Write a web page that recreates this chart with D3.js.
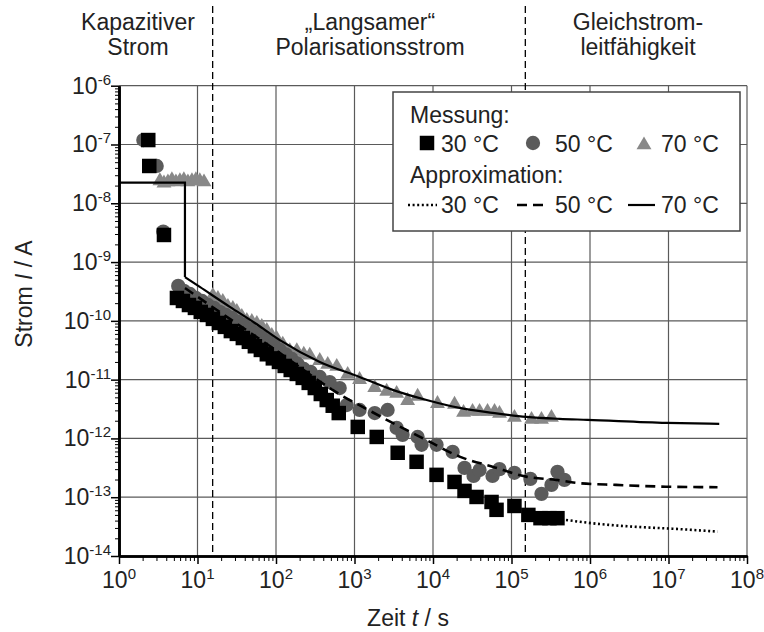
<html>
  <head>
    <title>Strom über Zeit</title>
    <script src="https://d3js.org/d3.v7.min.js"></script>
    <style>
      body {
        margin: 0;
        background: #fff;
      }
      text {
        font-family: "Liberation Sans", Arial, sans-serif;
        fill: #222;
      }
      .grid line {
        stroke: #5a5a5a;
        stroke-width: 1.2px;
      }
      .axis path,
      .axis line {
        stroke: #000;
      }
      .axis path {
        stroke-width: 2.6px;
      }
    </style>
  </head>
  <body>
    <svg id="chart" width="764" height="632"></svg>

    <script>
      // Messpunkte [t in s, I in A]
      const mess30 = [
        [2.36, 1.19e-7], [2.43, 4.31e-8], [3.74, 2.89e-9],
        [5.47, 2.45e-10], [6.52, 2.18e-10], [7.78, 1.86e-10], [9.27, 1.66e-10],
        [11.0, 1.42e-10], [13.2, 1.26e-10], [15.7, 1.08e-10], [18.7, 9.2e-11],
        [22.3, 7.9e-11], [26.6, 6.7e-11], [31.7, 6.0e-11], [37.8, 5.1e-11],
        [45.1, 4.4e-11], [53.8, 3.7e-11], [64.1, 3.2e-11], [76.4, 2.7e-11],
        [91.1, 2.3e-11], [109, 2.0e-11], [129, 1.71e-11], [154, 1.46e-11],
        [184, 1.25e-11], [219, 1.07e-11], [261, 8.8e-12], [312, 7.2e-12],
        [372, 5.7e-12], [443, 4.5e-12], [528, 3.6e-12], [630, 2.7e-12],
        [1100, 1.57e-12], [1920, 1.06e-12], [3550, 5.7e-13], [6180, 4.0e-13],
        [11100, 2.4e-13], [18800, 1.82e-13], [25200, 1.28e-13], [35900, 1.01e-13],
        [55700, 8.3e-14], [64500, 6.1e-14], [109000, 7.1e-14], [164000, 5.0e-14],
        [234000, 4.4e-14], [304000, 4.4e-14], [385000, 4.4e-14]
      ];
      const mess50 = [
        [2.04, 1.19e-7], [3.02, 4.31e-8], [3.66, 3.29e-9], [5.68, 3.93e-10],
        [6.71, 3.23e-10], [8.0, 2.87e-10], [9.54, 2.45e-10], [11.4, 2.18e-10],
        [13.6, 1.86e-10], [16.2, 1.66e-10], [19.3, 1.42e-10], [23.0, 1.26e-10],
        [27.4, 1.12e-10], [32.7, 9.6e-11], [38.9, 8.5e-11], [46.4, 7.3e-11],
        [55.3, 6.2e-11], [65.9, 5.3e-11], [78.7, 4.5e-11], [93.8, 3.9e-11],
        [112, 3.2e-11], [133, 2.7e-11], [159, 2.25e-11], [189, 1.85e-11],
        [226, 1.52e-11], [277, 1.35e-11], [361, 1.11e-11], [483, 9.1e-12],
        [648, 7.2e-12], [796, 3.7e-12], [1160, 3.05e-12], [1810, 2.7e-12],
        [2640, 3.05e-12], [3440, 1.51e-12], [4100, 1.15e-12], [6370, 1.06e-12],
        [7160, 7.8e-13], [11100, 7.8e-13], [17800, 5.9e-13], [25200, 3.15e-13],
        [32900, 2.3e-13], [39200, 2.9e-13], [57300, 2.3e-13], [70300, 3.0e-13],
        [109000, 2.6e-13], [174000, 2.05e-13], [241000, 1.14e-13],
        [323000, 1.62e-13], [385000, 2.7e-13], [472000, 1.97e-13]
      ];
      const mess70 = [
        [3.32, 2.4e-8], [3.74, 2.2e-8], [4.2, 2.3e-8], [4.72, 2.5e-8],
        [5.31, 2.3e-8], [5.97, 2.4e-8], [6.71, 2.5e-8], [7.55, 2.3e-8],
        [8.49, 2.4e-8], [9.54, 2.5e-8], [10.7, 2.4e-8], [12.1, 2.3e-8],
        [15.7, 2.69e-10], [18.2, 2.39e-10], [21.0, 2.13e-10], [24.4, 1.75e-10],
        [28.2, 1.62e-10], [31.7, 1.44e-10], [36.7, 1.18e-10], [42.5, 1.01e-10],
        [49.2, 9.7e-11], [57.0, 9.0e-11], [65.9, 8.0e-11], [76.4, 6.8e-11],
        [88.4, 5.6e-11], [102, 5.0e-11], [122, 4.0e-11], [150, 3.1e-11],
        [184, 3.1e-11], [226, 2.7e-11], [269, 2.6e-11], [361, 2.1e-11],
        [456, 1.81e-11], [594, 1.67e-11], [819, 1.22e-11], [1160, 1.0e-11],
        [1810, 7.3e-12], [2570, 6.3e-12], [3440, 5.8e-12], [4750, 4.4e-12],
        [6370, 5.2e-12], [11400, 3.9e-12], [18800, 3.8e-12], [24500, 2.76e-12],
        [31900, 2.87e-12], [39200, 2.87e-12], [49500, 2.87e-12], [60800, 2.87e-12],
        [70300, 2.65e-12], [109000, 2.27e-12], [180000, 2.1e-12],
        [241000, 2.1e-12], [323000, 2.27e-12]
      ];

      // Approximationen
      const approx30 = [
        [4.95e5, 4.1e-14], [1.32e6, 3.5e-14], [3.46e6, 3.16e-14],
        [1.19e7, 2.9e-14], [4.21e7, 2.6e-14]
      ];
      const approx50 = [
        [6.92, 3.61e-10], [25.8, 1.08e-10], [112, 2.84e-11], [483, 7.2e-12],
        [773, 4.9e-12], [1270, 3.44e-12], [2570, 2.07e-12], [8220, 9.4e-13],
        [21800, 4.9e-13], [57300, 3.31e-13], [154000, 2.24e-13],
        [371000, 1.97e-13], [733000, 1.73e-13], [2.15e6, 1.62e-13],
        [9.29e6, 1.51e-13], [4.21e7, 1.48e-13]
      ];
      const approx70Step = [[1, 2.24e-8], [6.92, 2.24e-8], [6.92, 5.56e-10]];
      const approx70 = [
        [6.92, 5.56e-10], [10.7, 3.78e-10], [25.8, 1.73e-10], [53.8, 9.2e-11],
        [112, 4.7e-11], [361, 2.0e-11], [1160, 1.11e-11], [3060, 6.7e-12],
        [8290, 4.5e-12], [21800, 3.3e-12], [57300, 2.72e-12], [155000, 2.32e-12],
        [408000, 2.15e-12], [927000, 2.07e-12], [9.38e6, 1.84e-12],
        [4.43e7, 1.77e-12]
      ];

      const regionBounds = [15.6, 1.5e5];
      const xExponents = [0, 1, 2, 3, 4, 5, 6, 7, 8];
      const yExponents = [-14, -13, -12, -11, -10, -9, -8, -7, -6];
      const legendTemps = ["30 °C", "50 °C", "70 °C"];

      const svg = d3.select("#chart");
      const x = d3.scaleLog().domain([1, 1e8]).range([119, 747]);
      const y = d3.scaleLog().domain([1e-14, 1e-6]).range([556, 85.7]);
      const [x0, x1] = x.range();
      const [y0, y1] = y.range();

      // Gitter
      const grid = svg.append("g").attr("class", "grid");
      grid
        .selectAll("line.v")
        .data(xExponents.slice(1))
        .join("line")
        .attr("class", "v")
        .attr("x1", (e) => x(10 ** e))
        .attr("x2", (e) => x(10 ** e))
        .attr("y1", y1)
        .attr("y2", y0);
      grid
        .selectAll("line.h")
        .data(yExponents.slice(1))
        .join("line")
        .attr("class", "h")
        .attr("x1", x0)
        .attr("x2", x1)
        .attr("y1", (e) => y(10 ** e))
        .attr("y2", (e) => y(10 ** e));

      // Bereichsgrenzen
      svg
        .selectAll("line.region")
        .data(regionBounds)
        .join("line")
        .attr("class", "region")
        .attr("x1", (d) => x(d))
        .attr("x2", (d) => x(d))
        .attr("y1", 6)
        .attr("y2", y0)
        .attr("stroke", "#000")
        .attr("stroke-width", 1.3)
        .attr("stroke-dasharray", "7,4");

      // Bereichstitel
      const headers = [
        { cx: 138, lines: ["Kapazitiver", "Strom"] },
        { cx: 370, lines: ["\u201ELangsamer\u201C", "Polarisationsstrom"] },
        { cx: 638, lines: ["Gleichstrom-", "leitfähigkeit"] }
      ];
      headers.forEach((h) => {
        h.lines.forEach((l, i) => {
          svg
            .append("text")
            .attr("x", h.cx)
            .attr("y", 30 + i * 25)
            .attr("text-anchor", "middle")
            .attr("font-size", 23)
            .text(l);
        });
      });

      // Legende
      const lg = svg.append("g");
      lg.append("rect")
        .attr("x", 393)
        .attr("y", 92)
        .attr("width", 347)
        .attr("height", 139)
        .attr("fill", "#fff")
        .attr("stroke", "#444")
        .attr("stroke-width", 1.5);
      lg.append("text").attr("x", 410).attr("y", 123).attr("font-size", 23).text("Messung:");
      lg.append("text").attr("x", 410).attr("y", 183).attr("font-size", 23).text("Approximation:");
      const legX = [441, 555, 661];
      legendTemps.forEach((t, i) => {
        lg.append("text").attr("x", legX[i]).attr("y", 152).attr("font-size", 23).text(t);
        lg.append("text").attr("x", legX[i]).attr("y", 213).attr("font-size", 23).text(t);
      });

      const markerStyles = [
        { data: mess70, type: d3.symbolTriangle, size: 96, fill: "#888", lx: 644 },
        { data: mess50, type: d3.symbolCircle, size: 160, fill: "#5b5b5b", lx: 533 },
        { data: mess30, type: d3.symbolSquare, size: 210, fill: "#000", lx: 427 }
      ];
      markerStyles.forEach((m) => {
        lg.append("path")
          .attr("d", d3.symbol().type(m.type).size(m.size)())
          .attr("transform", `translate(${m.lx},${m.type === d3.symbolTriangle ? 145 : 143})`)
          .attr("fill", m.fill);
      });

      const lineStyles = [
        { data: approx30, dash: "2,2.6", width: 2.6, lx: [408, 437] },
        { data: approx50, dash: "10,6", width: 2.6, lx: [517, 545] },
        { data: approx70, dash: null, width: 2.2, lx: [628, 655] }
      ];
      lineStyles.forEach((s) => {
        lg.append("line")
          .attr("x1", s.lx[0])
          .attr("x2", s.lx[1])
          .attr("y1", 205)
          .attr("y2", 205)
          .attr("stroke", "#000")
          .attr("stroke-width", s.width)
          .attr("stroke-dasharray", s.dash);
      });

      // Messpunkte
      markerStyles.forEach((m) => {
        svg
          .append("g")
          .selectAll("path")
          .data(m.data)
          .join("path")
          .attr("d", d3.symbol().type(m.type).size(m.size)())
          .attr("transform", (d) => `translate(${x(d[0])},${y(d[1])})`)
          .attr("fill", m.fill);
      });

      // Approximationslinien
      const curve = d3
        .line()
        .x((d) => x(d[0]))
        .y((d) => y(d[1]))
        .curve(d3.curveMonotoneX);
      lineStyles.forEach((s) => {
        svg
          .append("path")
          .attr("d", curve(s.data))
          .attr("fill", "none")
          .attr("stroke", "#000")
          .attr("stroke-width", s.width)
          .attr("stroke-dasharray", s.dash);
      });
      svg
        .append("path")
        .attr("d", d3.line().x((d) => x(d[0])).y((d) => y(d[1]))(approx70Step))
        .attr("fill", "none")
        .attr("stroke", "#000")
        .attr("stroke-width", 2.2);

      // Achsen
      const xMinor = x.ticks().filter((v) => !xExponents.some((e) => Math.abs(v - 10 ** e) < 1e-9 * v));
      const yMinor = y.ticks().filter((v) => !yExponents.some((e) => Math.abs(v - 10 ** e) < 1e-6 * v));

      const xAxis = svg.append("g").attr("class", "axis").attr("transform", `translate(0,${y0})`);
      xAxis.call(d3.axisBottom(x).tickValues(xMinor).tickSize(5).tickSizeOuter(0).tickFormat(""));
      xAxis.call((g) => g.select(".domain").attr("stroke-width", 2.6));
      const xMaj = svg.append("g").attr("class", "axis").attr("transform", `translate(0,${y0})`);
      xMaj.call(d3.axisBottom(x).tickValues(xExponents.map((e) => 10 ** e)).tickSize(8).tickSizeOuter(0).tickFormat(""));
      xMaj.selectAll("line").attr("stroke-width", 1.5);

      const yAxis = svg.append("g").attr("class", "axis").attr("transform", `translate(${x0},0)`);
      yAxis.call(d3.axisLeft(y).tickValues(yMinor).tickSize(4).tickSizeOuter(0).tickFormat(""));
      const yMaj = svg.append("g").attr("class", "axis").attr("transform", `translate(${x0},0)`);
      yMaj.call(d3.axisLeft(y).tickValues(yExponents.map((e) => 10 ** e)).tickSize(8).tickSizeOuter(0).tickFormat(""));
      yMaj.selectAll("line").attr("stroke-width", 1.5);

      // Beschriftungen der Achsen
      xExponents.forEach((e) => {
        const t = svg
          .append("text")
          .attr("x", x(10 ** e))
          .attr("y", 588)
          .attr("text-anchor", "middle")
          .attr("font-size", 23);
        t.append("tspan").text("10");
        t.append("tspan").attr("font-size", 15).attr("dy", -9).text(e);
      });
      yExponents.forEach((e) => {
        const t = svg
          .append("text")
          .attr("x", 111)
          .attr("y", y(10 ** e) + 8)
          .attr("text-anchor", "end")
          .attr("font-size", 23);
        t.append("tspan").text("10");
        t.append("tspan").attr("font-size", 15).attr("dy", -9).text(e);
      });

      const xt = svg
        .append("text")
        .attr("x", 408)
        .attr("y", 626)
        .attr("text-anchor", "middle")
        .attr("font-size", 23);
      xt.append("tspan").text("Zeit ");
      xt.append("tspan").attr("font-style", "italic").text("t");
      xt.append("tspan").text(" / s");

      const yt = svg
        .append("text")
        .attr("transform", "translate(32,294) rotate(-90)")
        .attr("text-anchor", "middle")
        .attr("font-size", 23);
      yt.append("tspan").text("Strom ");
      yt.append("tspan").attr("font-style", "italic").text("I");
      yt.append("tspan").text(" / A");
    </script>
  </body>
</html>
